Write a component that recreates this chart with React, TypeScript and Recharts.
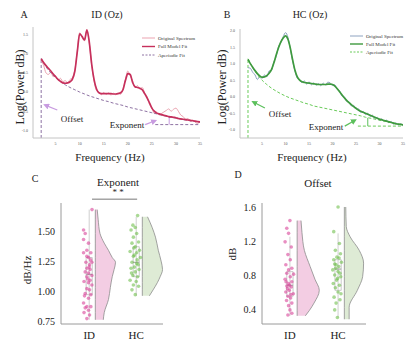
import {
  Area,
  ComposedChart,
  Line,
  ReferenceArea,
  ReferenceLine,
  Scatter,
  XAxis,
  YAxis,
} from 'recharts'

const SERIF = "'Liberation Serif', 'DejaVu Serif', serif"

// ---- power spectra (A: ID, B: HC) ----
const freqs = [
  2, 2.5, 3, 3.5, 4, 4.5, 5, 5.5, 6, 6.5,
  7, 7.5, 8, 8.5, 9, 9.5, 10, 10.5, 11, 11.5,
  12, 12.5, 13, 13.5, 14, 14.5, 15, 15.5, 16, 16.5,
  17, 17.5, 18, 18.5, 19, 19.5, 20, 20.5, 21, 21.5,
  22, 22.5, 23, 23.5, 24, 24.5, 25, 25.5, 26, 26.5,
  27, 27.5, 28, 28.5, 29, 29.5, 30, 30.5, 31, 31.5,
  32, 32.5, 33, 33.5, 34, 34.5, 35,
]
const aperFreqs = [
  2, 3, 4, 5, 6, 7, 8, 9, 10, 11, 12, 13, 14, 15, 16, 17, 18,
  19, 20, 21, 22, 23, 24, 25, 26, 27, 28, 29, 30, 31, 32, 33, 34, 35,
]
const freqTicks = [5, 10, 15, 20, 25, 30, 35]

const origId = [
  0.82, 0.7, 0.5, 0.46, 0.52, 0.4, 0.43, 0.31, 0.36, 0.27,
  0.3, 0.24, 0.33, 0.38, 0.58, 1.08, 1.55, 1.43, 1.34, 1.64,
  1.27, 0.7, 0.28, 0.04, 0.0, -0.07, -0.01, -0.06, -0.02, -0.08,
  -0.03, -0.07, -0.02, -0.06, 0.09, 0.33, 0.55, 0.42, 0.3, 0.12,
  0.17, 0.08, 0.12, -0.02, -0.12, -0.32, -0.4, -0.56, -0.52, -0.6,
  -0.56, -0.52, -0.48, -0.44, -0.5, -0.45, -0.42, -0.5, -0.6, -0.64,
  -0.71, -0.69, -0.76, -0.73, -0.79, -0.82, -0.77,
]
const fitId = [
  0.87, 0.77, 0.69, 0.62, 0.55, 0.47, 0.4, 0.33, 0.28, 0.24,
  0.23, 0.24, 0.27, 0.34, 0.55, 1.05, 1.52, 1.45, 1.36, 1.62,
  1.3, 0.72, 0.32, 0.08, -0.02, -0.04, -0.04, -0.04, -0.04, -0.04,
  -0.05, -0.05, -0.04, -0.02, 0.06, 0.3, 0.48, 0.46, 0.25, 0.14,
  0.12, 0.1, 0.06, -0.04, -0.15, -0.28, -0.42, -0.5, -0.55, -0.57,
  -0.59, -0.61, -0.62, -0.64, -0.65, -0.66, -0.67, -0.69, -0.7, -0.71,
  -0.72, -0.73, -0.74, -0.75, -0.76, -0.77, -0.78,
]
const aperId = [
  0.88, 0.66, 0.5, 0.38, 0.28, 0.19, 0.12, 0.06, 0.0, -0.05, -0.1, -0.14,
  -0.18, -0.22, -0.25, -0.29, -0.32, -0.35, -0.39, -0.42, -0.45, -0.48,
  -0.51, -0.54, -0.57, -0.6, -0.63, -0.66, -0.68, -0.71, -0.73, -0.75,
  -0.77, -0.79,
]

const origHc = [
  0.88, 0.86, 0.74, 0.66, 0.52, 0.62, 0.55, 0.66, 0.6, 0.78,
  0.8, 1.05, 1.22, 1.52, 1.64, 1.82, 1.94, 1.8, 1.46, 1.08,
  0.78, 0.56, 0.52, 0.42, 0.48, 0.38, 0.45, 0.36, 0.42, 0.35,
  0.4, 0.33, 0.41, 0.36, 0.44, 0.42, 0.34, 0.36, 0.22, 0.18,
  0.02, 0.0, -0.14, -0.15, -0.28, -0.26, -0.38, -0.36, -0.48, -0.44,
  -0.54, -0.5, -0.6, -0.56, -0.66, -0.62, -0.72, -0.67, -0.75, -0.71,
  -0.79, -0.75, -0.83, -0.79, -0.86, -0.82, -0.88,
]
const fitHc = [
  1.13, 1.0, 0.89, 0.79, 0.7, 0.63, 0.59, 0.6, 0.64, 0.71,
  0.82, 1.02, 1.26, 1.48, 1.66, 1.78, 1.84, 1.74, 1.48, 1.12,
  0.8, 0.6, 0.5, 0.45, 0.43, 0.42, 0.41, 0.4, 0.39, 0.38,
  0.37, 0.37, 0.37, 0.37, 0.38, 0.38, 0.37, 0.32, 0.24, 0.15,
  0.06, -0.03, -0.11, -0.18, -0.24, -0.3, -0.35, -0.4, -0.44, -0.47,
  -0.5, -0.53, -0.56, -0.59, -0.62, -0.65, -0.68, -0.7, -0.72, -0.74,
  -0.76, -0.78, -0.8, -0.82, -0.83, -0.84, -0.85,
]
const aperHc = [
  1.15, 0.88, 0.67, 0.5, 0.37, 0.26, 0.17, 0.09, 0.02, -0.04, -0.09, -0.14,
  -0.19, -0.23, -0.28, -0.31, -0.34, -0.37, -0.4, -0.43, -0.46, -0.49,
  -0.52, -0.55, -0.58, -0.62, -0.65, -0.68, -0.71, -0.74, -0.77, -0.8,
  -0.83, -0.86,
]

const legendLabels = ['Original Spectrum', 'Full Model Fit', 'Aperiodic Fit']

// ---- raincloud data (C: exponent, D: offset) ----
const groups = ['ID', 'HC']

const expIdV = [
  1.68, 1.51, 1.48, 1.43, 1.4, 1.34, 1.32, 1.32, 1.29, 1.28, 1.24, 1.24, 1.22,
  1.19, 1.18, 1.16, 1.15, 1.13, 1.12, 1.09, 1.08, 1.07, 1.05, 1.02, 1.01, 0.98,
  0.97, 0.94, 0.9, 0.87, 0.87, 0.86, 0.84, 0.82, 0.8, 0.77, 1.2, 1.1, 1.26, 0.96,
]
const expIdX = [
  1.06, 0.88, 0.915, 0.88, 0.985, 0.95, 0.88, 1.035, 0.95, 0.985, 0.93, 1.057, 1.007,
  0.95, 1.02, 0.915, 0.985, 1.057, 0.95, 1.02, 0.89, 0.985, 1.057, 0.95, 1.007, 0.915,
  1.035, 0.985, 0.88, 0.95, 1.035, 0.915, 0.985, 0.89, 1.007, 0.95, 1.0, 0.97, 1.03, 0.9,
]
const expHcV = [
  1.63, 1.55, 1.53, 1.51, 1.48, 1.45, 1.41, 1.4, 1.37, 1.34, 1.33, 1.32, 1.29,
  1.28, 1.24, 1.23, 1.2, 1.19, 1.18, 1.16, 1.13, 1.12, 1.09, 1.08, 1.05, 1.04,
  1.01, 0.97, 1.3, 1.22, 1.36, 1.15, 1.26,
]
const expHcX = [
  2.03, 1.93, 1.98, 1.89, 2.01, 1.94, 2.05, 1.91, 1.98, 2.07, 1.87, 2.01, 1.94,
  2.09, 1.91, 2.01, 1.96, 1.89, 2.06, 1.98, 1.93, 2.03, 1.87, 2.0, 1.94, 2.05,
  1.91, 1.98, 1.96, 2.04, 1.95, 1.9, 2.02,
]
const offIdV = [
  1.44, 1.35, 1.29, 1.19, 1.13, 1.04, 0.98, 0.92, 0.88, 0.86, 0.82, 0.81, 0.78,
  0.75, 0.72, 0.7, 0.67, 0.66, 0.62, 0.6, 0.58, 0.55, 0.53, 0.5, 0.47, 0.44,
  0.39, 0.33, 0.35, 0.68, 0.64, 0.57, 0.72,
]
const offIdX = [
  1.0, 0.935, 0.972, 0.9, 1.028, 0.958, 1.007, 0.915, 1.04, 0.972, 0.935, 1.076, 1.007,
  0.9, 1.04, 0.972, 0.935, 1.028, 0.986, 0.915, 1.07, 0.958, 1.014, 0.93, 1.04, 0.972,
  1.0, 0.958, 1.04, 0.99, 0.95, 1.02, 0.92,
]
const offHcV = [
  1.6, 1.31, 1.17, 1.09, 1.05, 1.01, 0.98, 0.95, 0.92, 0.9, 0.86, 0.84, 0.8,
  0.78, 0.74, 0.7, 0.68, 0.65, 0.6, 0.54, 0.51, 0.47, 0.39, 0.3, 1.0, 0.88,
  0.82, 0.93, 0.76, 0.58,
]
const offHcX = [
  2.0, 1.91, 2.028, 1.944, 2.05, 1.976, 1.91, 2.07, 1.958, 2.014, 1.89, 2.0, 1.93,
  2.055, 1.97, 1.9, 2.028, 1.944, 2.0, 1.917, 2.04, 1.958, 1.93, 1.986, 2.02, 1.95,
  2.04, 1.93, 1.99, 2.06,
]

// density outline: level and half-width (x units) per group
const expIdDensV = [1.68, 1.6, 1.48, 1.4, 1.34, 1.28, 1.24, 1.18, 1.12, 1.03, 0.93, 0.82, 0.76]
const expIdDensW = [0.04, 0.06, 0.1, 0.19, 0.28, 0.36, 0.43, 0.4, 0.36, 0.32, 0.28, 0.19, 0.17]
const expHcDensV = [1.62, 1.53, 1.45, 1.34, 1.25, 1.18, 1.12, 1.07, 1.01, 0.96]
const expHcDensW = [0.11, 0.21, 0.28, 0.34, 0.4, 0.43, 0.38, 0.32, 0.23, 0.15]
const offIdDensV = [1.44, 1.3, 1.09, 0.9, 0.75, 0.62, 0.47, 0.38, 0.32]
const offIdDensW = [0.08, 0.1, 0.15, 0.27, 0.37, 0.46, 0.35, 0.25, 0.17]
const offHcDensV = [1.6, 1.37, 1.25, 1.09, 0.94, 0.78, 0.62, 0.42, 0.28]
const offHcDensW = [0.03, 0.04, 0.12, 0.31, 0.4, 0.38, 0.27, 0.1, 0.1]

// box stats: [low whisker, q1, median, q3, high whisker]
const expIdBox = [0.76, 0.97, 1.14, 1.28, 1.68]
const expHcBox = [0.96, 1.12, 1.24, 1.37, 1.62]
const offIdBox = [0.32, 0.55, 0.68, 0.84, 1.25]
const offHcBox = [0.3, 0.62, 0.87, 0.98, 1.29]

const PINK = '#d8459a'
const GREEN = '#72bf4e'

function Txt({ x, y, size, rotate, children }: any) {
  return (
    <div
      style={{
        position: 'absolute',
        left: x,
        top: y,
        fontSize: size,
        fontFamily: SERIF,
        lineHeight: 1,
        whiteSpace: 'nowrap',
        transform: `translate(-50%, -50%)${rotate ? ' rotate(-90deg)' : ''}`,
      }}
    >
      {children}
    </div>
  )
}

function specRows(orig: number[], fit: number[], aper: number[]) {
  return freqs.map((f, i) => {
    const j = aperFreqs.indexOf(f)
    return { f, orig: orig[i], fit: fit[i], aper: j >= 0 ? aper[j] : null }
  })
}

function SpectrumPanel(p: any) {
  const rows = specRows(p.orig, p.fit, p.aper)
  const marker = `url(#${p.id})`
  const tick = { fontSize: 4, fill: '#555', fontFamily: SERIF }
  return (
    <div style={{ position: 'absolute', left: p.left, top: 0 }}>
      <ComposedChart
        width={p.width}
        height={150}
        data={rows}
        margin={{ top: p.top, right: 5, bottom: 0, left: 0 }}
      >
        <defs>
          <marker id={p.id} markerWidth={6} markerHeight={6} refX={4} refY={3} orient="auto" markerUnits="userSpaceOnUse">
            <path d="M0,0 L6,3 L0,6 Z" fill={p.arrow} />
          </marker>
        </defs>
        <XAxis
          type="number"
          dataKey="f"
          domain={[0.3, 35]}
          ticks={freqTicks}
          allowDataOverflow
          height={12}
          stroke="#c4c4c4"
          tickLine={false}
          tickSize={2}
          tickMargin={2}
          tick={tick}
        />
        <YAxis
          type="number"
          domain={p.domain}
          ticks={p.yTicks}
          allowDataOverflow
          width={p.yAxisW}
          stroke="#c4c4c4"
          tickLine={false}
          tickSize={2}
          tickMargin={3}
          tick={tick}
          tickFormatter={(v: number) => v.toFixed(1)}
        />
        <ReferenceLine
          segment={[{ x: aperFreqs[0], y: p.domain[0] }, { x: aperFreqs[0], y: p.aper[0] }]}
          stroke={p.aperColor}
          strokeDasharray="3 2"
          ifOverflow="visible"
        />
        <ReferenceLine
          segment={[{ x: p.expLine[0], y: p.expLine[2] }, { x: p.expLine[1], y: p.expLine[2] }]}
          stroke={p.aperColor}
          strokeDasharray="3 2"
        />
        <ReferenceLine
          segment={[{ x: p.expTick[0], y: p.expTick[1] }, { x: p.expTick[0], y: p.expTick[2] }]}
          stroke={p.arrow}
          strokeWidth={1}
        />
        <Line type="monotone" dataKey="orig" stroke={p.origColor} strokeWidth={1} dot={false} isAnimationActive={false} />
        <Line
          type="monotone"
          dataKey="aper"
          stroke={p.aperColor}
          strokeWidth={1}
          strokeDasharray="3 2"
          dot={false}
          connectNulls
          isAnimationActive={false}
        />
        <Line type="monotone" dataKey="fit" stroke={p.fitColor} strokeWidth={1.7} dot={false} isAnimationActive={false} />
        <ReferenceLine
          segment={p.offArrow}
          stroke={p.arrow}
          strokeWidth={1.2}
          markerEnd={marker}
          ifOverflow="visible"
        />
        <ReferenceLine
          segment={p.expArrow}
          stroke={p.arrow}
          strokeWidth={1.2}
          markerEnd={marker}
          ifOverflow="visible"
        />
      </ComposedChart>
      <svg
        width={70}
        height={28}
        style={{ position: 'absolute', left: p.legend[0], top: p.legend[1], fontFamily: SERIF }}
      >
        {legendLabels.map((t, i) => (
          <g key={t}>
            <line
              x1={2}
              x2={15}
              y1={5 + i * p.legend[2]}
              y2={5 + i * p.legend[2]}
              stroke={[p.origColor, p.fitColor, p.aperColor][i]}
              strokeWidth={i === 1 ? 1.4 : 1}
              strokeDasharray={i === 2 ? '2 1.5' : undefined}
            />
            <text x={18} y={5 + i * p.legend[2]} dy="0.35em" fontSize={5} fill="#333" fontFamily={SERIF}>
              {t}
            </text>
          </g>
        ))}
      </svg>
      <Txt x={p.letter[0]} y={15} size={10}>{p.letter[1]}</Txt>
      <Txt x={p.title[0]} y={15} size={10}>{p.title[1]}</Txt>
      <Txt x={p.ylab} y={87} size={12} rotate>Log(Power dB)</Txt>
      <Txt x={p.xlab} y={157} size={11}>Frequency (Hz)</Txt>
      <Txt x={p.offText[0]} y={p.offText[1]} size={9}>Offset</Txt>
      <Txt x={p.expText[0]} y={p.expText[1]} size={9}>Exponent</Txt>
    </div>
  )
}

function RainPanel(p: any) {
  const dens = [0, 1].map((g) =>
    p.densV[g].map((v: number, i: number) => ({ v, span: [p.base[g], p.base[g] + p.densW[g][i]] })),
  )
  const pts = [0, 1].map((g) => p.ptsV[g].map((v: number, i: number) => ({ x: p.ptsX[g][i], v })))
  const fills = ['#f3cde3', '#deebd5']
  const dots = [PINK, GREEN]
  const tickStyle = { fill: '#222', fontFamily: SERIF }
  return (
    <div style={{ position: 'absolute', left: p.left, top: 160 }}>
      <ComposedChart
        layout="vertical"
        width={170}
        height={190}
        data={dens[0]}
        margin={{ top: 43, right: p.right, bottom: 0, left: 0 }}
      >
        <XAxis
          type="number"
          dataKey="x"
          domain={p.xDomain}
          ticks={[1, 2]}
          tickFormatter={(v: number) => groups[v - 1]}
          allowDataOverflow
          height={26}
          stroke="#9a9a9a"
          tickLine={false}
          tickSize={4}
          tickMargin={3}
          tick={{ ...tickStyle, fontSize: 11 }}
        />
        <YAxis
          type="number"
          dataKey="v"
          reversed
          domain={p.domain}
          ticks={p.ticks}
          allowDataOverflow
          width={p.yW}
          stroke="#9a9a9a"
          tickLine={false}
          tickSize={4}
          tickMargin={2}
          tick={{ ...tickStyle, fontSize: 10 }}
          tickFormatter={(v: number) => v.toFixed(p.dec)}
        />
        {[0, 1].map((g) => (
          <Area
            key={`v${g}`}
            data={dens[g]}
            type="monotoneY"
            dataKey="span"
            stroke="#8c8c8c"
            strokeWidth={0.8}
            fill={fills[g]}
            fillOpacity={1}
            isAnimationActive={false}
          />
        ))}
        {[0, 1].map((g) => (
          <ReferenceLine
            key={`w${g}`}
            segment={[{ x: g + 1, y: p.box[g][0] }, { x: g + 1, y: p.box[g][4] }]}
            stroke="#cfcfcf"
            strokeWidth={1}
          />
        ))}
        {[0, 1].map((g) => (
          <ReferenceArea
            key={`b${g}`}
            x1={g + 1 - 0.065}
            x2={g + 1 + 0.065}
            y1={p.box[g][1]}
            y2={p.box[g][3]}
            fill="#ffffff"
            fillOpacity={0.6}
            stroke="#bdbdbd"
            strokeWidth={0.8}
          />
        ))}
        {[0, 1].map((g) => (
          <ReferenceLine
            key={`m${g}`}
            segment={[{ x: g + 1 - 0.065, y: p.box[g][2] }, { x: g + 1 + 0.065, y: p.box[g][2] }]}
            stroke="#9a9a9a"
            strokeWidth={1}
          />
        ))}
        {[0, 1].map((g) => (
          <Scatter
            key={`p${g}`}
            data={pts[g]}
            isAnimationActive={false}
            shape={(s: any) => <circle cx={s.cx} cy={s.cy} r={1.8} fill={dots[g]} fillOpacity={0.6} />}
          />
        ))}
        {p.sig && (
          <ReferenceLine
            segment={[{ x: p.sig[0], y: p.sig[2] }, { x: p.sig[1], y: p.sig[2] }]}
            stroke="#777"
            strokeWidth={1}
            ifOverflow="visible"
          />
        )}
      </ComposedChart>
      <Txt x={p.letter[0]} y={p.letter[1]} size={10}>{p.letter[2]}</Txt>
      <Txt x={p.title[0]} y={p.title[1]} size={11}>{p.title[2]}</Txt>
      <Txt x={p.ylab[0]} y={p.ylab[1]} size={11} rotate>{p.ylab[2]}</Txt>
      {p.star && <Txt x={p.star[0]} y={p.star[1]} size={9}>* *</Txt>}
    </div>
  )
}

export default function App() {
  return (
    <div
      style={{
        position: 'absolute',
        left: 0,
        top: 0,
        width: 413,
        height: 356,
        background: '#fff',
        fontFamily: SERIF,
        color: '#222',
        overflow: 'hidden',
      }}
    >
      <SpectrumPanel
        id="arrA"
        left={0}
        width={205}
        yAxisW={33}
        top={27}
        domain={[-1.2, 1.7]}
        yTicks={[-1, -0.5, 0, 0.5, 1, 1.5]}
        orig={origId}
        fit={fitId}
        aper={aperId}
        origColor="#eba3b0"
        fitColor="#c6305c"
        aperColor="#8e72a3"
        arrow="#c89be0"
        offArrow={[{ x: 5.35, y: -0.47 }, { x: 2.8, y: -0.34 }]}
        expArrow={[{ x: 23.6, y: -0.85 }, { x: 25.7, y: -0.75 }]}
        expLine={[25.7, 35, -0.85]}
        expTick={[28.6, -0.85, -0.65]}
        legend={[140, 33, 8.5]}
        letter={[24, 'A']}
        title={[107, 'ID (Oz)']}
        ylab={20}
        xlab={110}
        offText={[72, 119]}
        expText={[127, 125]}
      />
      <SpectrumPanel
        id="arrB"
        left={200}
        width={208}
        yAxisW={40}
        top={29}
        domain={[-1.25, 2.05]}
        yTicks={[-1, -0.5, 0, 0.5, 1, 1.5, 2]}
        orig={origHc}
        fit={fitHc}
        aper={aperHc}
        origColor="#8ea3c0"
        fitColor="#3e9a3e"
        aperColor="#6acb5a"
        arrow="#5cc05c"
        offArrow={[{ x: 5.6, y: -0.34 }, { x: 3.1, y: -0.16 }]}
        expArrow={[{ x: 22.6, y: -0.89 }, { x: 24.8, y: -0.71 }]}
        expLine={[25.4, 35, -0.89]}
        expTick={[27.5, -0.89, -0.64]}
        legend={[148, 31, 8]}
        letter={[27, 'B']}
        title={[110, 'HC (Oz)']}
        ylab={22}
        xlab={112}
        offText={[80, 114]}
        expText={[126, 127]}
      />
      <RainPanel
        left={0}
        right={7}
        yW={61}
        xDomain={[0.4, 2.57]}
        domain={[0.725, 1.735]}
        ticks={[0.75, 1, 1.25, 1.5]}
        dec={2}
        densV={[expIdDensV, expHcDensV]}
        densW={[expIdDensW, expHcDensW]}
        base={[1.13, 2.13]}
        ptsV={[expIdV, expHcV]}
        ptsX={[expIdX, expHcX]}
        box={[expIdBox, expHcBox]}
        sig={[1.06, 2.02, 1.767]}
        star={[118, 32]}
        letter={[35, 19, 'C']}
        title={[118, 22, 'Exponent']}
        ylab={[27, 110, 'dB/Hz']}
      />
      <RainPanel
        left={200}
        right={4}
        yW={62}
        xDomain={[0.42, 2.58]}
        domain={[0.224, 1.647]}
        ticks={[0.4, 0.8, 1.2, 1.6]}
        dec={1}
        densV={[offIdDensV, offHcDensV]}
        densW={[offIdDensW, offHcDensW]}
        base={[1.15, 2.13]}
        ptsV={[offIdV, offHcV]}
        ptsX={[offIdX, offHcX]}
        box={[offIdBox, offHcBox]}
        letter={[38, 15, 'D']}
        title={[118, 23, 'Offset']}
        ylab={[32, 94, 'dB']}
      />
    </div>
  )
}
